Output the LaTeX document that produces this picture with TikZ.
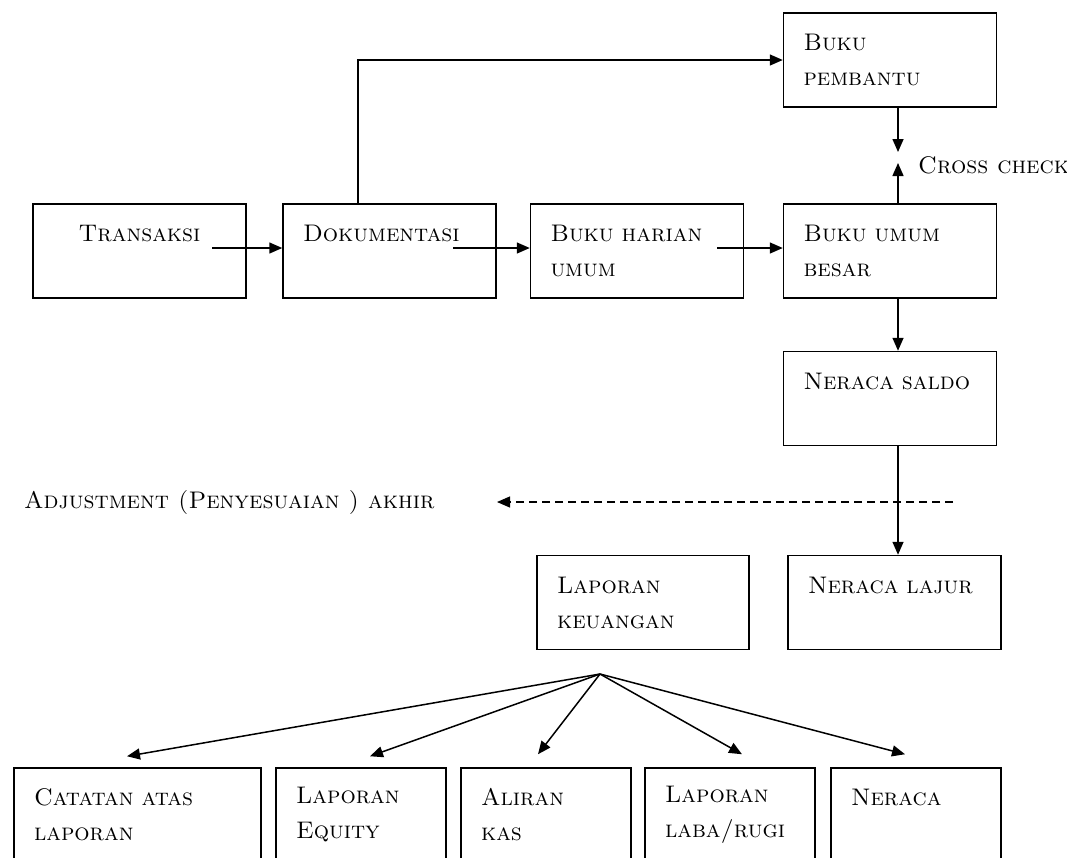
\documentclass[tikz,border=0pt]{standalone}
\usepackage{xcolor}
\usepackage{tikz}
\usetikzlibrary{arrows.meta}
\usetikzlibrary{positioning}
\tikzset{
  Kotak/.style={
    rectangle, draw=black, line width=1.5pt,
    minimum height=94, align=left, inner xsep=20pt,
    font=\fontsize{24}{35}\selectfont\scshape,
  },
  Teks/.style={font=\fontsize{24}{35}\selectfont\scshape, inner sep=0pt},
  Panah/.style={-{Triangle[length=13pt,width=11pt]}, line width=1.5pt},
}

\begin{document}
\begin{tikzpicture}[x=1pt,y=-1pt]
\clip (0,0) rectangle (1067,857);
\node[Kotak, minimum width=213, text width=173, align=center] (TRANS) at (139.5,251) {Transaksi\\\mbox{}};
\node[Kotak, minimum width=213, text width=173] (DOK) at (389.5,251) {Dokumentasi\\\mbox{}};
\node[Kotak, minimum width=213, text width=173] (BHU) at (637,251) {Buku harian\\umum};
\node[Kotak, minimum width=213, text width=173] (BUB) at (890,251) {Buku umum\\besar};
\node[Kotak, minimum width=213, text width=173] (BP) at (890,60) {Buku\\pembantu};
\node[Kotak, minimum width=213, text width=173] (NS) at (890,398.5) {Neraca saldo\\\mbox{}};
\node[Kotak, minimum width=213, text width=173] (NL) at (894.5,602.5) {Neraca lajur\\\mbox{}};
\node[Kotak, minimum width=212, text width=172] (LK) at (643,602.5) {Laporan\\keuangan};
\node[Kotak, minimum width=247, text width=207] (CAL) at (137.5,815) {Catatan atas\\laporan};
\node[Kotak, minimum width=170, text width=130] (LE) at (361,815) {Laporan\\Equity};
\node[Kotak, minimum width=170, text width=130] (AK) at (546,815) {Aliran\\kas};
\node[Kotak, minimum width=170, text width=130] (LLR) at (730,815) {Laporan\\laba/rugi};
\node[Kotak, minimum width=170, text width=130] (NER) at (916,815) {Neraca\\\mbox{}};
\node[Teks, anchor=west] (CROSS) at (918,165) {Cross check};
\node[Teks, anchor=west] (ADJ) at (24,502) {Adjustment (Penyesuaian ) akhir};
% titik bantu
\coordinate (D1) at (358,0);
\coordinate (T1) at (212,248);
\coordinate (T2) at (453,248);
\coordinate (T3) at (717,248);
\coordinate (CC1) at (898,152);
\coordinate (CC2) at (898,163);
\coordinate (ADJ1) at (953,502);
\coordinate (ADJ2) at (497,502);
\coordinate (PUSAT) at (600,674);
\draw[Panah] (T1) -- (T1 -| DOK.west);
\draw[Panah] (T2) -- (T2 -| BHU.west);
\draw[Panah] (T3) -- (T3 -| BUB.west);
\draw[Panah] (DOK.north -| D1) |- (BP.west);
\draw[Panah] (BP.south -| CC1) -- (CC1);
\draw[Panah] (BUB.north -| CC1) -- (CC2);
\draw[Panah] (BUB.south -| CC1) -- (NS.north -| CC1);
\draw[Panah] (NS.south -| CC1) -- (NL.north -| CC1);
\draw[Panah, line width=1.2pt, dash pattern=on 8pt off 5pt] (ADJ1) -- (ADJ2);
\draw[Panah] (PUSAT) -- ([xshift=-10.5pt,yshift=11pt]CAL.north);
\draw[Panah] (PUSAT) -- ([xshift=9pt,yshift=11pt]LE.north);
\draw[Panah] (PUSAT) -- ([xshift=-8pt,yshift=13pt]AK.north);
\draw[Panah] (PUSAT) -- ([xshift=12pt,yshift=13pt]LLR.north);
\draw[Panah] (PUSAT) -- ([xshift=-11pt,yshift=13pt]NER.north);
\end{tikzpicture}
\end{document}
